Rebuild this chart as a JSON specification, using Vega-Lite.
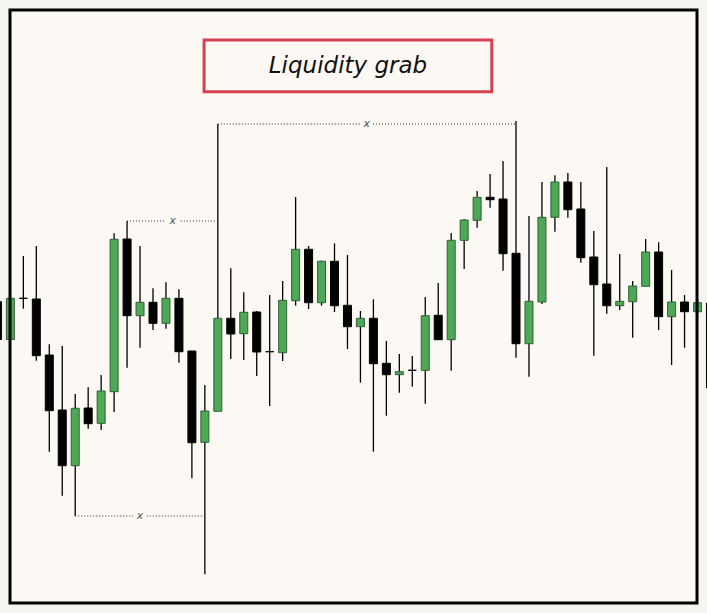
{
  "$schema": "https://vega.github.io/schema/vega-lite/v6.json",
  "width": 687,
  "height": 593,
  "autosize": {"type": "none"},
  "padding": {"left": 10, "top": 10, "right": 10, "bottom": 10},
  "background": "#f7f5f0",
  "config": {
    "view": {"stroke": null, "fill": "#fcf8f3"},
    "font": "DejaVu Sans"
  },
  "datasets": {
    "candles": [
      {"i": -1, "o": 311.3, "h": 314, "l": 268, "c": 273.5},
      {"i": 0, "o": 273.5, "h": 317, "l": 270, "c": 314.7},
      {"i": 1, "o": 314.7, "h": 357, "l": 304.3, "c": 314.7},
      {"i": 2, "o": 314, "h": 367, "l": 252.3, "c": 257.3},
      {"i": 3, "o": 258, "h": 268.7, "l": 161.3, "c": 202.3},
      {"i": 4, "o": 203, "h": 267, "l": 117.3, "c": 147.3},
      {"i": 5, "o": 147.3, "h": 219, "l": 97, "c": 204.7},
      {"i": 6, "o": 205, "h": 225.7, "l": 184.3, "c": 189.3},
      {"i": 7, "o": 189.7, "h": 238, "l": 183, "c": 222},
      {"i": 8, "o": 221.3, "h": 379.7, "l": 201, "c": 373.7},
      {"i": 9, "o": 374, "h": 392, "l": 245.3, "c": 297.3},
      {"i": 10, "o": 297.3, "h": 367, "l": 265.3, "c": 310.7},
      {"i": 11, "o": 310.7, "h": 324.7, "l": 283, "c": 289.7},
      {"i": 12, "o": 289.7, "h": 330.7, "l": 284.3, "c": 314.7},
      {"i": 13, "o": 314.7, "h": 323.7, "l": 250.3, "c": 261.3},
      {"i": 14, "o": 262, "h": 262, "l": 134.7, "c": 170.3},
      {"i": 15, "o": 170.7, "h": 228, "l": 38.7, "c": 202},
      {"i": 16, "o": 201.7, "h": 489, "l": 201.7, "c": 294.7},
      {"i": 17, "o": 294.7, "h": 344.7, "l": 254, "c": 279},
      {"i": 18, "o": 279.3, "h": 320.7, "l": 253, "c": 300.7},
      {"i": 19, "o": 301, "h": 302, "l": 237, "c": 261},
      {"i": 20, "o": 261.3, "h": 318, "l": 207, "c": 261.3},
      {"i": 21, "o": 260.3, "h": 332, "l": 252, "c": 312.7},
      {"i": 22, "o": 312.3, "h": 416, "l": 307.3, "c": 363.7},
      {"i": 23, "o": 363.7, "h": 367, "l": 304, "c": 310.3},
      {"i": 24, "o": 310.3, "h": 352.3, "l": 307.3, "c": 351.7},
      {"i": 25, "o": 351.7, "h": 369.7, "l": 301, "c": 307.3},
      {"i": 26, "o": 307.7, "h": 358, "l": 264, "c": 286.3},
      {"i": 27, "o": 286.3, "h": 302, "l": 230.3, "c": 294.7},
      {"i": 28, "o": 294.7, "h": 313.7, "l": 161.3, "c": 249.3},
      {"i": 29, "o": 249.7, "h": 272, "l": 197.3, "c": 238.3},
      {"i": 30, "o": 238.3, "h": 259, "l": 220.3, "c": 241.3},
      {"i": 31, "o": 242.7, "h": 257, "l": 226.3, "c": 242.7},
      {"i": 32, "o": 242.7, "h": 316, "l": 209.3, "c": 297.3},
      {"i": 33, "o": 297.7, "h": 330, "l": 273.3, "c": 273.3},
      {"i": 34, "o": 273.3, "h": 380, "l": 242.3, "c": 372.7},
      {"i": 35, "o": 372.7, "h": 394, "l": 344, "c": 393},
      {"i": 36, "o": 392.7, "h": 422, "l": 385.3, "c": 415.7},
      {"i": 37, "o": 415.7, "h": 439, "l": 405.3, "c": 413.3},
      {"i": 38, "o": 414, "h": 452, "l": 342.3, "c": 359.3},
      {"i": 39, "o": 359.7, "h": 492, "l": 255.3, "c": 269.3},
      {"i": 40, "o": 269.3, "h": 397, "l": 236.3, "c": 311.7},
      {"i": 41, "o": 311, "h": 431, "l": 309, "c": 395.7},
      {"i": 42, "o": 395.7, "h": 437.7, "l": 381.3, "c": 431},
      {"i": 43, "o": 431, "h": 440, "l": 395.3, "c": 403.3},
      {"i": 44, "o": 404, "h": 431, "l": 350.3, "c": 355.3},
      {"i": 45, "o": 356, "h": 382, "l": 257.3, "c": 328.3},
      {"i": 46, "o": 329, "h": 446, "l": 299.3, "c": 307.3},
      {"i": 47, "o": 307.3, "h": 359, "l": 303, "c": 311.7},
      {"i": 48, "o": 311.3, "h": 332, "l": 275.3, "c": 327},
      {"i": 49, "o": 326.7, "h": 374, "l": 326.7, "c": 361},
      {"i": 50, "o": 361, "h": 370.7, "l": 283, "c": 296.3},
      {"i": 51, "o": 296.3, "h": 343, "l": 248, "c": 311},
      {"i": 52, "o": 311, "h": 318, "l": 265.3, "c": 301.3},
      {"i": 53, "o": 301.3, "h": 315, "l": 295, "c": 310.3},
      {"i": 54, "o": 310, "h": 313, "l": 221, "c": 225}
    ],
    "levels": [
      {"a": 16, "b": 26.97, "p": 489},
      {"a": 27.97, "b": 39, "p": 489},
      {"a": 9, "b": 11.9, "p": 392},
      {"a": 13.15, "b": 16, "p": 392},
      {"a": 5, "b": 9.48, "p": 97},
      {"a": 10.52, "b": 15, "p": 97}
    ],
    "marks": [
      {"i": 27.49, "p": 489, "t": "x"},
      {"i": 12.52, "p": 392, "t": "x"},
      {"i": 10, "p": 97, "t": "x"}
    ],
    "box": [
      {"a": 14.94, "b": 37.13, "lo": 521.3, "hi": 573, "mid": 26.04, "pm": 547, "t": "Liquidity grab"}
    ]
  },
  "layer": [
    {
      "data": {"name": "candles"},
      "mark": {"type": "rule", "color": "#000000", "strokeWidth": 1.3},
      "encoding": {
        "x": {"field": "i", "type": "quantitative", "scale": {"domain": [-0.03, 52.96], "nice": false, "zero": false, "padding": 0}, "axis": null},
        "y": {"field": "l", "type": "quantitative", "scale": {"domain": [10, 603], "nice": false, "zero": false, "padding": 0}, "axis": null},
        "y2": {"field": "h"}
      }
    },
    {
      "data": {"name": "candles"},
      "mark": {"type": "bar", "size": 8, "strokeWidth": 1},
      "encoding": {
        "x": {"field": "i", "type": "quantitative", "scale": {"domain": [-0.03, 52.96], "nice": false, "zero": false, "padding": 0}, "axis": null},
        "y": {"field": "o", "type": "quantitative", "scale": {"domain": [10, 603], "nice": false, "zero": false, "padding": 0}, "axis": null},
        "y2": {"field": "c"},
        "fill": {"condition": {"test": "datum.c > datum.o", "value": "#4ea855"}, "value": "#000000"},
        "stroke": {"condition": {"test": "datum.c > datum.o", "value": "#2e6236"}, "value": "#000000"}
      }
    },
    {
      "data": {"name": "levels"},
      "mark": {"type": "rule", "color": "#333333", "strokeWidth": 1, "strokeDash": [1, 2]},
      "encoding": {
        "x": {"field": "a", "type": "quantitative", "scale": {"domain": [-0.03, 52.96], "nice": false, "zero": false, "padding": 0}, "axis": null},
        "x2": {"field": "b"},
        "y": {"field": "p", "type": "quantitative", "scale": {"domain": [10, 603], "nice": false, "zero": false, "padding": 0}, "axis": null}
      }
    },
    {
      "data": {"name": "marks"},
      "mark": {"type": "text", "font": "DejaVu Sans", "fontStyle": "italic", "fontSize": 11, "color": "#555555", "baseline": "middle", "align": "center"},
      "encoding": {
        "x": {"field": "i", "type": "quantitative", "scale": {"domain": [-0.03, 52.96], "nice": false, "zero": false, "padding": 0}, "axis": null},
        "y": {"field": "p", "type": "quantitative", "scale": {"domain": [10, 603], "nice": false, "zero": false, "padding": 0}, "axis": null},
        "text": {"field": "t"}
      }
    },
    {
      "data": {"name": "box"},
      "mark": {"type": "rect", "fill": "#fcf8f3", "stroke": "#d8414f", "strokeWidth": 3},
      "encoding": {
        "x": {"field": "a", "type": "quantitative", "scale": {"domain": [-0.03, 52.96], "nice": false, "zero": false, "padding": 0}, "axis": null},
        "x2": {"field": "b"},
        "y": {"field": "lo", "type": "quantitative", "scale": {"domain": [10, 603], "nice": false, "zero": false, "padding": 0}, "axis": null},
        "y2": {"field": "hi"}
      }
    },
    {
      "data": {"name": "box"},
      "mark": {"type": "text", "font": "DejaVu Sans", "fontStyle": "italic", "fontSize": 23, "color": "#111111", "baseline": "middle", "align": "center"},
      "encoding": {
        "x": {"field": "mid", "type": "quantitative", "scale": {"domain": [-0.03, 52.96], "nice": false, "zero": false, "padding": 0}, "axis": null},
        "y": {"field": "pm", "type": "quantitative", "scale": {"domain": [10, 603], "nice": false, "zero": false, "padding": 0}, "axis": null},
        "text": {"field": "t"}
      }
    },
    {
      "data": {"values": [{}]},
      "mark": {"type": "rect", "fill": null, "stroke": "#000000", "strokeWidth": 3},
      "encoding": {
        "x": {"datum": -0.03, "type": "quantitative", "scale": {"domain": [-0.03, 52.96], "nice": false, "zero": false, "padding": 0}, "axis": null},
        "x2": {"datum": 52.96},
        "y": {"datum": 10, "type": "quantitative", "scale": {"domain": [10, 603], "nice": false, "zero": false, "padding": 0}, "axis": null},
        "y2": {"datum": 603}
      }
    }
  ]
}
